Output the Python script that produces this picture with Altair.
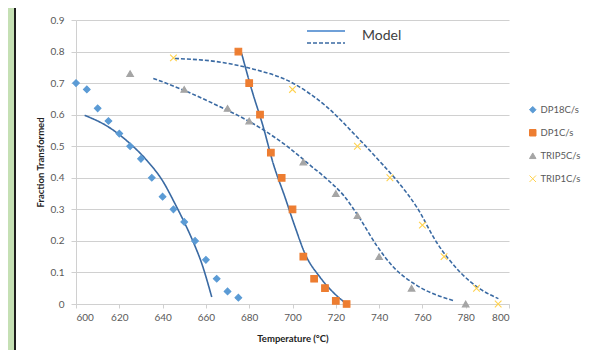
import altair as alt
import pandas as pd

# ---------------- data ----------------
series_names = ["DP18C/s", "DP1C/s", "TRIP5C/s", "TRIP1C/s"]

dp18_T = [600, 605, 610, 615, 620, 625, 630, 635, 640, 645, 650, 655, 660, 665, 670, 675]
dp18_f = [0.70, 0.68, 0.62, 0.58, 0.54, 0.50, 0.46, 0.40, 0.34, 0.30, 0.26, 0.20, 0.14, 0.08, 0.04, 0.02]

dp1_T = [675, 680, 685, 690, 695, 700, 705, 710, 715, 720, 725]
dp1_f = [0.80, 0.70, 0.60, 0.48, 0.40, 0.30, 0.15, 0.08, 0.05, 0.01, 0.00]

trip5_T = [625, 650, 670, 680, 705, 720, 730, 740, 755, 780]
trip5_f = [0.73, 0.68, 0.62, 0.58, 0.45, 0.35, 0.28, 0.15, 0.05, 0.00]

trip1_T = [645, 700, 730, 745, 760, 770, 785, 795]
trip1_f = [0.78, 0.68, 0.50, 0.40, 0.25, 0.15, 0.05, 0.00]

# model curves
m_dp18_T = [604, 615, 625, 632.6, 640.3, 645.7, 650.3, 654.2, 658.1, 662.7]
m_dp18_f = [0.598, 0.561, 0.508, 0.456, 0.387, 0.318, 0.255, 0.196, 0.128, 0.022]

m_dp1_T = [676.5, 681.2, 686.5, 691.1, 696.5, 701.2, 705.8, 712.7, 718.8, 725]
m_dp1_f = [0.794, 0.678, 0.561, 0.445, 0.339, 0.244, 0.159, 0.085, 0.037, 0.0]

m_trip5_T = [635.7, 649.6, 665, 678.8, 688.1, 698.8, 708.1, 716, 723.5, 731.2, 738.9, 746.6, 757.4, 774.3]
m_trip5_f = [0.715, 0.678, 0.630, 0.583, 0.545, 0.493, 0.44, 0.395, 0.345, 0.27, 0.185, 0.117, 0.059, 0.011]

m_trip1_T = [645.7, 665, 680.4, 700.4, 715.8, 729.7, 741.9, 748.1, 757.4, 766.6, 777.4, 786.6, 795.1]
m_trip1_f = [0.778, 0.768, 0.747, 0.699, 0.625, 0.53, 0.44, 0.392, 0.307, 0.195, 0.101, 0.048, 0.017]

x_ticks = [600, 620, 640, 660, 680, 700, 720, 740, 760, 780, 800]
y_ticks = [0, 0.1, 0.2, 0.3, 0.4, 0.5, 0.6, 0.7, 0.8, 0.9]

# ---------------- tables ----------------
rows = []
for name, Ts, fs in zip(series_names, [dp18_T, dp1_T, trip5_T, trip1_T], [dp18_f, dp1_f, trip5_f, trip1_f]):
    for t, f in zip(Ts, fs):
        rows.append({"series": name, "T": t, "f": f})
points = pd.DataFrame(rows)

mrows = []
for name, style, Ts, fs in zip(series_names, ["solid", "solid", "dashed", "dashed"],
                               [m_dp18_T, m_dp1_T, m_trip5_T, m_trip1_T],
                               [m_dp18_f, m_dp1_f, m_trip5_f, m_trip1_f]):
    for i, (t, f) in enumerate(zip(Ts, fs)):
        mrows.append({"curve": name, "style": style, "T": t, "f": f, "i": i})
models = pd.DataFrame(mrows)

FONT = "Lato"
W, H = 433, 284
PL, PT, PR, PB = 68, 12, 74, 46

xscale = alt.Scale(domain=[600, 800], nice=False, zero=False)
yscale = alt.Scale(domain=[0, 0.9], nice=False)

xaxis = alt.Axis(values=x_ticks, grid=False, title="Temperature (°C)", tickSize=4,
                 labelPadding=4, titlePadding=11, domainColor="#d0d0d0", tickColor="#d0d0d0",
                 labelColor="#595959", labelFontSize=10, titleFontSize=9.5, titleFontWeight="bold",
                 titleColor="#222222", labelFont=FONT, titleFont=FONT)
yaxis = alt.Axis(values=y_ticks, format=".1~f", grid=True, gridColor="#d0d0d0", gridWidth=1.2,
                 title="Fraction Transformed", tickSize=5, labelPadding=7, titlePadding=5,
                 domainColor="#d0d0d0", tickColor="#d0d0d0", labelColor="#595959",
                 labelFontSize=10, titleFontSize=9.5, titleFontWeight="bold", titleColor="#222222",
                 labelFont=FONT, titleFont=FONT)

colors = ["#5b9bd5", "#ed7d31", "#a5a5a5", "#ffd24d"]
fills = ["#5b9bd5", "#ed7d31", "#a5a5a5", "transparent"]
shapes = ["diamond", "square", "triangle-up", "M-1,-1L1,1M-1,1L1,-1"]

lines = alt.Chart(models).mark_line(strokeWidth=1.6, color="#3a6aa3", interpolate="monotone").encode(
    x=alt.X("T:Q", scale=xscale, axis=xaxis),
    y=alt.Y("f:Q", scale=yscale, axis=yaxis),
    detail="curve:N",
    order="i:Q",
    strokeDash=alt.StrokeDash("style:N", scale=alt.Scale(domain=["solid", "dashed"], range=[[1, 0], [4, 2]]),
                              legend=None),
)

leg = alt.Legend(title=None, orient="none", legendX=452, legendY=85, symbolSize=42,
                 rowPadding=12, labelFont=FONT, labelFontSize=9.5, labelColor="#595959",
                 labelOffset=3, symbolStrokeWidth=1)

pts = alt.Chart(points).mark_point(filled=False, strokeWidth=1.1, opacity=1, size=44).encode(
    x=alt.X("T:Q", scale=xscale, axis=xaxis),
    y=alt.Y("f:Q", scale=yscale, axis=yaxis),
    color=alt.Color("series:N", scale=alt.Scale(domain=series_names, range=colors), legend=leg),
    fill=alt.Fill("series:N", scale=alt.Scale(domain=series_names, range=fills), legend=leg),
    shape=alt.Shape("series:N", scale=alt.Scale(domain=series_names, range=shapes), legend=leg),
)

one = pd.DataFrame({"a": [0]})
# decorative frame kept inside the canvas: green strip + dark left border of the panel
green = alt.Chart(one).mark_rect(fill="#c5e0b4", strokeWidth=0).encode(
    x=alt.value(-PL), x2=alt.value(-PL + 6), y=alt.value(-PT), y2=alt.value(H + PB))
vborder = alt.Chart(one).mark_rect(fill="#1e1e1e", strokeWidth=0).encode(
    x=alt.value(-PL + 6), x2=alt.value(-PL + 8), y=alt.value(-PT), y2=alt.value(H + PB))

# "Model" legend
solid_leg = alt.Chart(one).mark_rule(color="#6fa0d8", strokeWidth=2).encode(
    x=alt.value(231), x2=alt.value(269), y=alt.value(11))
dash_leg = alt.Chart(one).mark_rule(color="#3a6aa3", strokeWidth=1.6, strokeDash=[4, 2]).encode(
    x=alt.value(231), x2=alt.value(269), y=alt.value(23))
model_txt = alt.Chart(one).mark_text(text="Model", font=FONT, fontSize=14, color="#404040",
                                     align="left", baseline="middle").encode(
    x=alt.value(286), y=alt.value(16))

chart = alt.layer(green, vborder, lines, pts, solid_leg, dash_leg, model_txt).properties(
    width=W, height=H,
    autosize=alt.AutoSizeParams(type="none"),
    padding={"left": PL, "top": PT, "right": PR, "bottom": PB},
).configure(background="white").configure_view(stroke=None)

chart.save("out.html", embed_options={"renderer": "svg", "actions": False})
